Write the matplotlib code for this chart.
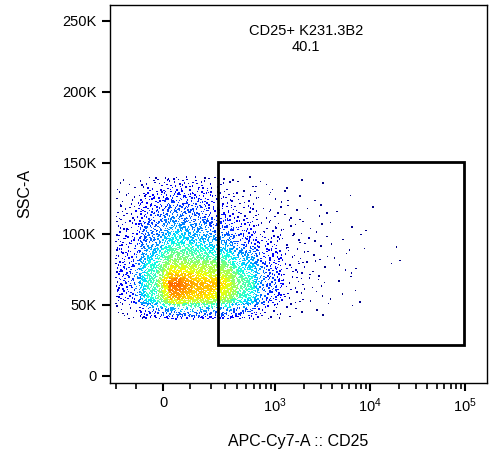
import numpy as np
import matplotlib
matplotlib.use("Agg")
import matplotlib.pyplot as plt
from matplotlib.patches import Rectangle

plt.rcParams['font.family'] = ['Liberation Sans', 'DejaVu Sans']

# transformed x-bin edges (display units) and SSC bins (K)
x_bins = np.arange(-0.5, 3.01, 0.25)
y_bins = np.arange(40, 141, 10)
counts = [  # rows: 40-50K ... 130-140K
    [10, 40, 60, 60, 55, 40, 15, 4, 2, 1, 0, 0, 0, 0],
    [30, 100, 180, 170, 150, 100, 40, 10, 4, 2, 1, 0, 0, 0],
    [35, 110, 200, 180, 170, 110, 45, 12, 5, 2, 1, 0, 0, 0],
    [35, 100, 160, 150, 140, 90, 40, 12, 5, 3, 1, 1, 0, 0],
    [30, 80, 120, 110, 95, 65, 30, 10, 5, 3, 1, 1, 0, 0],
    [25, 60, 90, 80, 65, 40, 20, 8, 4, 2, 1, 1, 0, 0],
    [20, 50, 70, 60, 45, 25, 12, 6, 3, 2, 1, 0, 0, 0],
    [15, 40, 55, 45, 30, 15, 8, 5, 3, 1, 1, 0, 0, 0],
    [10, 30, 40, 35, 20, 10, 5, 3, 2, 1, 0, 0, 0, 0],
    [5, 15, 25, 20, 10, 5, 3, 2, 1, 0, 0, 0, 0, 0],
]
gate_x = (0.58, 3.17)
gate_y = (21.8, 150.7)
gate_label = "CD25+ K231.3B2\n40.1"
ytick_vals = [0, 50, 100, 150, 200, 250]
ytick_labels = ["0", "50K", "100K", "150K", "200K", "250K"]

def halton(i, b):
    f, r = 1.0, 0.0
    while i > 0:
        f /= b
        r += f * (i % b)
        i //= b
    return r

xs, ys = [], []
k = 1
for r, row in enumerate(counts):
    for c, n in enumerate(row):
        for _ in range(n):
            xs.append(x_bins[c] + 0.25 * halton(k, 2))
            ys.append(y_bins[r] + 10 * halton(k, 3))
            k += 1
xs = np.array(xs); ys = np.array(ys)

# local density for colouring
H, xe, ye = np.histogram2d(xs, ys, bins=[np.arange(-0.6, 3.4, 0.06), np.arange(30, 150, 3)])
Hs = H.copy()
for dx in (-1, 0, 1):
    for dy in (-1, 0, 1):
        if dx or dy:
            Hs += np.roll(np.roll(H, dx, 0), dy, 1)
ix = np.clip(np.digitize(xs, xe) - 1, 0, H.shape[0] - 1)
iy = np.clip(np.digitize(ys, ye) - 1, 0, H.shape[1] - 1)
dens = Hs[ix, iy]
order = np.argsort(dens)

fig = plt.figure(figsize=(4.93, 4.53), dpi=100)
ax = fig.add_axes([0.223, 0.155, 0.765, 0.834])
ax.scatter(xs[order], ys[order], c=dens[order], cmap="jet", s=1.2, marker="s", linewidths=0,
           vmin=0, vmax=dens.max() * 1.25)
ax.add_patch(Rectangle((gate_x[0], gate_y[0]), gate_x[1] - gate_x[0], gate_y[1] - gate_y[0],
                       fill=False, lw=2, ec="black"))
ax.text(1.5, 237, gate_label, ha="center", va="center", fontsize=10.5)
ax.set_xlim(-0.56, 3.41)
ax.set_ylim(-5, 261)

def t(v):
    v = np.asarray(v, float)
    out = np.where(np.abs(v) < 1000,
                   1.18 * np.arcsinh(v / 150) / np.arcsinh(1000 / 150),
                   np.sign(v) * (np.log10(np.abs(v) + 1e-9) - 3 + 1.18))
    return out

ax.set_xticks(t([0, 1000, 10000, 100000]))
ax.set_xticklabels(["0", "$\\mathregular{10^3}$", "$\\mathregular{10^4}$", "$\\mathregular{10^5}$"])
minors = [-200, -100] + list(range(100, 1000, 100)) + list(range(2000, 10000, 1000)) + list(range(20000, 100000, 10000))
ax.set_xticks(t(minors), minor=True)
ax.set_yticks(ytick_vals)
ax.set_yticklabels(ytick_labels)
ax.tick_params(direction="out", length=6, width=1.5, labelsize=10.5)
ax.tick_params(which="minor", length=4, width=1.2)
for s in ax.spines.values():
    s.set_linewidth(1)
ax.set_xlabel("APC-Cy7-A :: CD25", fontsize=11.5, labelpad=14)
ax.set_ylabel("SSC-A", fontsize=11.5, labelpad=22)
fig.savefig("out.png", dpi=100)
